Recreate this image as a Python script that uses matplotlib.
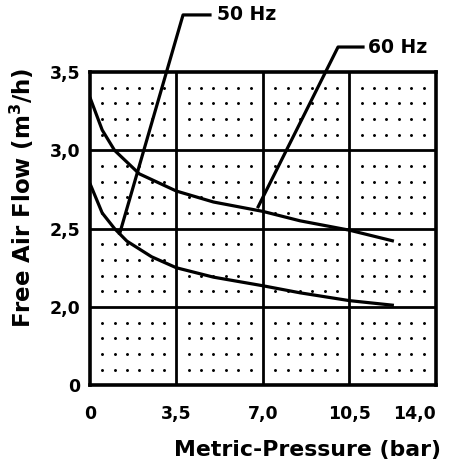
import numpy as np
import matplotlib
matplotlib.use("Agg")
import matplotlib.pyplot as plt

plt.rcParams["font.family"] = ["DejaVu Sans"]
plt.rcParams["font.weight"] = "bold"
plt.rcParams["mathtext.fontset"] = "custom"
plt.rcParams["mathtext.rm"] = "DejaVu Sans:bold"
plt.rcParams["mathtext.default"] = "rm"

# curves (pressure bar, free air flow m3/h)
P_60 = [0, 0.5, 1.0, 2.0, 3.5, 5.0, 7.0, 8.5, 10.5, 12.3]
Q_60 = [3.34, 3.13, 3.00, 2.85, 2.74, 2.67, 2.61, 2.55, 2.49, 2.42]
P_50 = [0, 0.5, 1.0, 1.5, 2.5, 3.5, 5.0, 7.0, 8.5, 10.5, 12.3]
Q_50 = [2.79, 2.60, 2.50, 2.42, 2.32, 2.25, 2.19, 2.135, 2.09, 2.04, 2.01]

# leader lines to the labels
LEAD_50_X = [1.21, 3.77, 4.86]
LEAD_50_Y = [2.47, 3.865, 3.865]
LEAD_60_X = [6.81, 10.04, 11.05]
LEAD_60_Y = [2.64, 3.66, 3.66]
LABELS = ["50 Hz", "60 Hz"]

X_TICKS = [0, 3.5, 7.0, 10.5, 14.0]
X_TICKLABELS = ["0", "3,5", "7,0", "10,5", "14,0"]
Y_TICKS = [1.5, 2.0, 2.5, 3.0, 3.5]          # bottom cell is a broken axis
Y_TICKLABELS = ["0", "2,0", "2,5", "3,0", "3,5"]

fig = plt.figure(figsize=(4.56, 4.68), dpi=100)
ax = fig.add_axes([0.197, 0.177, 0.759, 0.669])
ax.set_xlim(0, 14)
ax.set_ylim(1.5, 3.5)

# dotted fill in each grid cell
dx = np.arange(0, 14, 3.5)[:, None] + np.arange(1, 7)[None, :] * 0.5
dy = np.arange(1.5, 3.5, 0.5)[:, None] + np.arange(1, 5)[None, :] * 0.1
gx, gy = np.meshgrid(dx.ravel(), dy.ravel())
ax.scatter(gx.ravel(), gy.ravel(), s=4.5, color="black", linewidths=0, zorder=1)

for v in X_TICKS[1:-1]:
    ax.axvline(v, color="black", lw=2.0, zorder=2)
for v in Y_TICKS[1:-1]:
    ax.axhline(v, color="black", lw=2.0, zorder=2)

ax.plot(P_60, Q_60, color="black", lw=2.3, zorder=3, solid_capstyle="butt")
ax.plot(P_50, Q_50, color="black", lw=2.3, zorder=3, solid_capstyle="butt")

ax.plot(LEAD_50_X, LEAD_50_Y, color="black", lw=2.3, clip_on=False, zorder=4,
        solid_joinstyle="round")
ax.plot(LEAD_60_X, LEAD_60_Y, color="black", lw=2.3, clip_on=False, zorder=4,
        solid_joinstyle="round")
ax.text(LEAD_50_X[-1] + 0.3, LEAD_50_Y[-1], LABELS[0], ha="left", va="center",
        fontsize=13.5, fontweight="bold")
ax.text(LEAD_60_X[-1] + 0.2, LEAD_60_Y[-1], LABELS[1], ha="left", va="center",
        fontsize=13.5, fontweight="bold")

for s in ax.spines.values():
    s.set_linewidth(2.6)
    s.set_zorder(5)

ax.set_xticks(X_TICKS)
ax.set_xticklabels(X_TICKLABELS)
ax.get_xticklabels()[-1].set_horizontalalignment("right")
ax.set_yticks(Y_TICKS)
ax.set_yticklabels(Y_TICKLABELS)
ax.tick_params(length=0, labelsize=12.5)
ax.tick_params(axis="x", pad=14)
ax.tick_params(axis="y", pad=7)

fig.text(308 / 456, 1 - 450 / 468, "Metric-Pressure (bar)", ha="center", va="center",
         fontsize=15.8, fontweight="bold")
fig.text(22 / 456, 1 - 198 / 468, "Free Air Flow (m$^3$/h)", ha="center", va="center",
         rotation=90, fontsize=16.5, fontweight="bold")

fig.savefig("out.png", dpi=100, facecolor="white")
